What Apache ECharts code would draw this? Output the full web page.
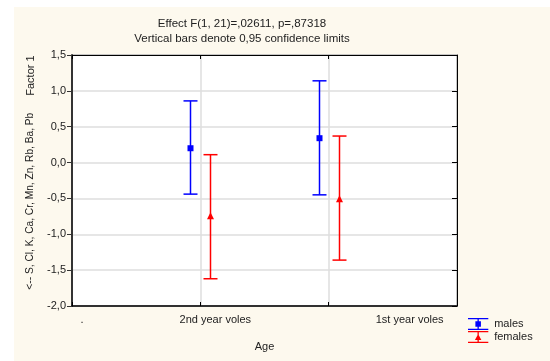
<!DOCTYPE html>
<html>
<head>
<meta charset="utf-8">
<script src="https://cdn.jsdelivr.net/npm/echarts@6/dist/echarts.min.js"></script>
<style>
  html, body { margin: 0; padding: 0; background: #ffffff; }
  #chart { width: 550px; height: 361px; }
</style>
</head>
<body>
<div id="chart"></div>
<script>
// Axis categories (positions 0, 1, 2 on the x scale)
const categories = ['.', '2nd year voles', '1st year voles'];
const agePositions = [1, 2];

// Factor 1 means with 0.95 confidence limits
const malesMean = [0.20, 0.34];
const malesLow = [-0.44, -0.45];
const malesHigh = [0.86, 1.14];

const femalesMean = [-0.75, -0.51];
const femalesLow = [-1.62, -1.36];
const femalesHigh = [0.11, 0.37];

const yTicks = [-2.0, -1.5, -1.0, -0.5, 0.0, 0.5, 1.0, 1.5];

const BLUE = '#0000ff';
const RED = '#ff0000';
const FONT = '"Liberation Sans", Arial, sans-serif';

function rows(low, high, mean) {
  return agePositions.map((p, i) => [p, low[i], high[i], mean[i]]);
}

// Draws a vertical confidence bar with caps and a marker at the mean
function errorBar(color, offset, marker) {
  return function (params, api) {
    const x = api.value(0);
    const lo = api.coord([x, api.value(1)]);
    const hi = api.coord([x, api.value(2)]);
    const mid = api.coord([x, api.value(3)]);
    const cx = Math.round(lo[0] + offset) + 0.5;
    const half = 7;
    const line = { stroke: color, lineWidth: 1.5, fill: null };
    const children = [
      { type: 'line', shape: { x1: cx, y1: hi[1], x2: cx, y2: lo[1] }, style: line },
      { type: 'line', shape: { x1: cx - half, y1: hi[1], x2: cx + half, y2: hi[1] }, style: line },
      { type: 'line', shape: { x1: cx - half, y1: lo[1], x2: cx + half, y2: lo[1] }, style: line }
    ];
    if (marker === 'square') {
      children.push({ type: 'rect', shape: { x: cx - 3, y: mid[1] - 3, width: 6, height: 6 }, style: { fill: color } });
    } else {
      children.push({ type: 'polygon', shape: { points: [[cx, mid[1] - 4], [cx + 3.5, mid[1] + 3], [cx - 3.5, mid[1] + 3]] }, style: { fill: color } });
    }
    return { type: 'group', children: children };
  };
}

const maleIcon = 'path://M0 0H22V1.3H0Z M10.3 0H11.7V13H10.3Z M0 11.7H22V13H0Z M8 3.5H14V9.5H8Z';
const femaleIcon = 'path://M0 0H22V1.3H0Z M10.3 0H11.7V13H10.3Z M0 11.7H22V13H0Z M7.5 9.8L11 3.2L14.5 9.8Z';

const chart = echarts.init(document.getElementById('chart'), null, { renderer: 'canvas' });

const labelRich = {
  c0: { fontSize: 11, fontFamily: FONT, color: '#222', padding: [0, 0, 0, 20] },
  c1: { fontSize: 11, fontFamily: FONT, color: '#222', padding: [0, 0, 0, 30] },
  c2: { fontSize: 11, fontFamily: FONT, color: '#222', padding: [0, 0, 0, 162] }
};

chart.setOption({
  backgroundColor: '#ffffff',
  animation: false,
  graphic: {
    elements: [
      { type: 'rect', z: -100, silent: true, shape: { x: 14, y: 7, width: 536, height: 354 }, style: { fill: '#fdf9ee' } }
    ]
  },
  title: {
    text: 'Effect F(1, 21)=,02611, p=,87318\nVertical bars denote 0,95 confidence limits',
    left: 237,
    textAlign: 'center',
    top: 11,
    textStyle: { fontSize: 11.5, fontWeight: 'normal', fontFamily: FONT, color: '#222', lineHeight: 15 }
  },
  legend: {
    orient: 'vertical',
    left: 463,
    top: 313,
    itemWidth: 22,
    itemHeight: 12,
    itemGap: 1,
    textStyle: { fontSize: 11, fontFamily: FONT, color: '#222' },
    data: [
      { name: 'males', icon: maleIcon },
      { name: 'females', icon: femaleIcon }
    ]
  },
  grid: {
    left: 72, right: 93, top: 55, bottom: 55,
    show: true, backgroundColor: '#ffffff', borderColor: '#000', borderWidth: 1
  },
  xAxis: [
    {
      type: 'value', min: 0, max: 3, interval: 1, position: 'bottom',
      name: 'Age', nameLocation: 'middle', nameGap: 35,
      nameTextStyle: { fontSize: 11, fontFamily: FONT, color: '#222' },
      axisLine: { show: true, onZero: false, lineStyle: { color: '#000', width: 1.5 } },
      axisTick: { show: true, inside: true, length: 4, lineStyle: { color: '#000' } },
      axisLabel: {
        margin: 8,
        formatter: function (v) {
          const i = Math.round(v);
          if (i >= categories.length) return '';
          return '{c' + i + '|' + categories[i] + '}';
        },
        rich: labelRich
      },
      splitLine: { show: true, lineStyle: { color: '#dedede', width: 1.5 } }
    },
    {
      type: 'value', min: 0, max: 3, interval: 1, position: 'top',
      axisLine: { show: true, onZero: false, lineStyle: { color: '#000', width: 1 } },
      axisTick: { show: true, inside: true, length: 4, lineStyle: { color: '#000' } },
      axisLabel: { show: false },
      splitLine: { show: false }
    }
  ],
  yAxis: [
    {
      type: 'value', min: -2, max: 1.5, interval: 0.5, position: 'left',
      name: '{list|<-- S, Cl, K, Ca, Cr, Mn, Zn, Rb, Ba, Pb}{gap|}{f|Factor 1}',
      nameLocation: 'middle', nameRotate: 90, nameGap: 34,
      nameTextStyle: {
        fontSize: 11, fontFamily: FONT, color: '#222', padding: [0, 0, 0, 16],
        rich: {
          list: { fontSize: 10.2, fontFamily: FONT, color: '#222' },
          gap: { width: 17 },
          f: { fontSize: 11, fontFamily: FONT, color: '#222' }
        }
      },
      axisLine: { show: true, onZero: false, lineStyle: { color: '#333', width: 2 } },
      axisTick: { show: true, inside: false, length: 5, lineStyle: { color: '#333' } },
      axisLabel: {
        margin: 6, fontSize: 11, fontFamily: FONT, color: '#222',
        customValues: yTicks,
        formatter: function (v) { return v.toFixed(1).replace('.', ','); }
      },
      splitLine: { show: true, lineStyle: { color: '#dedede', width: 1.5 } }
    },
    {
      type: 'value', min: -2, max: 1.5, interval: 0.5, position: 'right',
      axisLine: { show: true, onZero: false, lineStyle: { color: '#000', width: 1 } },
      axisTick: { show: true, inside: true, length: 5, lineStyle: { color: '#000' } },
      axisLabel: { show: false },
      splitLine: { show: false }
    }
  ],
  series: [
    {
      name: 'males', type: 'custom', xAxisIndex: 0, yAxisIndex: 0,
      itemStyle: { color: BLUE },
      renderItem: errorBar(BLUE, -10, 'square'),
      encode: { x: 0, y: [1, 2, 3] },
      data: rows(malesLow, malesHigh, malesMean)
    },
    {
      name: 'females', type: 'custom', xAxisIndex: 0, yAxisIndex: 0,
      itemStyle: { color: RED },
      renderItem: errorBar(RED, 10, 'triangle'),
      encode: { x: 0, y: [1, 2, 3] },
      data: rows(femalesLow, femalesHigh, femalesMean)
    }
  ]
});
</script>
</body>
</html>
